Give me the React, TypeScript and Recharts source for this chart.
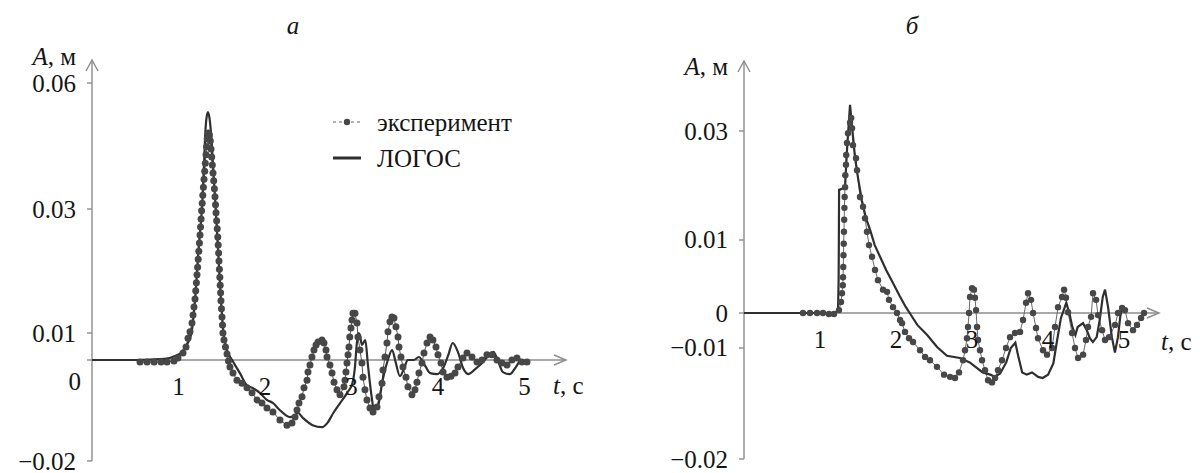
import React from "react"
import { LineChart, Line, XAxis, YAxis, ReferenceLine, ReferenceDot, Legend } from "recharts"

// ---- panel "а": wave amplitude, experiment vs LOGOS ----
const experimentA: [number, number][] = [
  [0.555, -0.0004], [0.636, -0.0004], [0.717, -0.0004], [0.798, -0.0004], [0.867, -0.0004], [0.948, -0.0002],
  [0.994, 0.0007], [1.052, 0.0026], [1.087, 0.0048], [1.11, 0.0081], [1.133, 0.0102], [1.156, 0.0116],
  [1.168, 0.0129], [1.179, 0.0142], [1.191, 0.0155], [1.199, 0.0168], [1.207, 0.0181], [1.214, 0.0194],
  [1.221, 0.0206], [1.228, 0.0219], [1.235, 0.0232], [1.242, 0.0245], [1.249, 0.0258], [1.255, 0.0271],
  [1.261, 0.0284], [1.267, 0.0297], [1.274, 0.0314], [1.281, 0.0333], [1.288, 0.0352], [1.295, 0.0371],
  [1.303, 0.039], [1.31, 0.0409], [1.318, 0.0429], [1.325, 0.0448], [1.333, 0.0467], [1.344, 0.0481],
  [1.358, 0.0476], [1.368, 0.0462], [1.376, 0.0443], [1.384, 0.0424], [1.391, 0.0405], [1.399, 0.0386],
  [1.407, 0.0367], [1.415, 0.0348], [1.422, 0.0329], [1.428, 0.031], [1.434, 0.0294], [1.441, 0.0281],
  [1.448, 0.0268], [1.454, 0.0255], [1.459, 0.0242], [1.464, 0.0229], [1.468, 0.0216], [1.473, 0.0203],
  [1.478, 0.019], [1.482, 0.0177], [1.487, 0.0165], [1.491, 0.0152], [1.497, 0.0139], [1.503, 0.0126],
  [1.509, 0.0113], [1.514, 0.01], [1.526, 0.0074], [1.543, 0.0048], [1.561, 0.0022], [1.578, -0.0002],
  [1.595, -0.0014], [1.63, -0.0026], [1.676, -0.004], [1.734, -0.0046], [1.792, -0.0055], [1.85, -0.0065],
  [1.908, -0.0079], [1.965, -0.0085], [2.023, -0.0095], [2.092, -0.0103], [2.173, -0.0119], [2.254, -0.0129],
  [2.312, -0.0125], [2.347, -0.0113], [2.37, -0.0099], [2.393, -0.0085], [2.428, -0.0073], [2.451, -0.0055],
  [2.486, -0.004], [2.497, -0.0024], [2.52, -0.001], [2.543, 0.0011], [2.566, 0.0037], [2.59, 0.0056],
  [2.613, 0.0067], [2.659, 0.0074], [2.682, 0.0063], [2.705, 0.0037], [2.717, 0.0011], [2.751, -0.001],
  [2.775, -0.0026], [2.798, -0.0044], [2.832, -0.0059], [2.867, -0.0069], [2.913, -0.0053], [2.925, -0.004],
  [2.936, -0.0024], [2.948, -0.0006], [2.96, 0.0019], [2.971, 0.0048], [2.98, 0.0085], [2.994, 0.0108],
  [3.006, 0.0121], [3.017, 0.0132], [3.04, 0.0132], [3.064, 0.0116], [3.075, 0.0085], [3.098, 0.0037],
  [3.121, -0.0006], [3.133, -0.0034], [3.156, -0.0059], [3.179, -0.0079], [3.214, -0.0095], [3.249, -0.0103],
  [3.295, -0.0093], [3.318, -0.0073], [3.353, -0.0046], [3.364, -0.002], [3.387, 0.0011], [3.41, 0.0063],
  [3.422, 0.0102], [3.445, 0.0118], [3.468, 0.0126], [3.491, 0.0124], [3.514, 0.011], [3.538, 0.0085],
  [3.549, 0.0048], [3.572, 0.0011], [3.595, -0.0014], [3.63, -0.0034], [3.653, -0.0053], [3.699, -0.0069],
  [3.734, -0.0059], [3.757, -0.0044], [3.78, -0.0026], [3.815, -0.0006], [3.838, 0.0026], [3.873, 0.0063],
  [3.908, 0.0085], [3.942, 0.0074], [3.977, 0.0048], [4.0, 0.0019], [4.035, -0.0006], [4.058, -0.0024],
  [4.104, -0.0034], [4.15, -0.0032], [4.197, -0.0026], [4.231, -0.0014], [4.289, 0.0007], [4.335, 0.0026],
  [4.393, 0.0011], [4.451, -0.0004], [4.509, 0], [4.566, 0.0019], [4.624, 0.0019], [4.682, 0],
  [4.74, -0.0006], [4.798, -0.001], [4.855, 0], [4.913, 0.0007], [4.971, -0.0004], [5.029, -0.0004],
]

const logosA: [number, number][] = [
  [0, 0], [0.5, 0], [0.84, 0.0004], [0.96, 0.0015], [1.04, 0.003], [1.1, 0.0059], [1.15, 0.01],
  [1.191, 0.0153], [1.231, 0.0234], [1.277, 0.0321], [1.295, 0.0405], [1.31, 0.0481], [1.324, 0.0517],
  [1.341, 0.0531], [1.358, 0.0517], [1.376, 0.0481], [1.399, 0.0405], [1.424, 0.0321], [1.457, 0.0234],
  [1.491, 0.0153], [1.52, 0.01], [1.561, 0.0037], [1.62, 0], [1.71, -0.0026], [1.79, -0.005],
  [1.85, -0.0055], [1.94, -0.0065], [2.02, -0.0079], [2.09, -0.0085], [2.17, -0.0099], [2.29, -0.0113],
  [2.35, -0.0109], [2.38, -0.0105], [2.44, -0.0115], [2.55, -0.0129], [2.66, -0.0133], [2.72, -0.0125],
  [2.79, -0.0105], [2.87, -0.0085], [2.95, -0.0065], [3.01, -0.0046], [3.04, -0.0014], [3.06, 0.0056],
  [3.08, 0.01], [3.1, 0.0089], [3.12, 0.0056], [3.16, 0.0074], [3.19, -0.001], [3.23, -0.0069],
  [3.26, -0.0099], [3.31, -0.0089], [3.36, -0.004], [3.42, 0], [3.47, 0.0037], [3.51, -0.0004],
  [3.56, -0.0032], [3.61, -0.0016], [3.65, 0], [3.72, 0], [3.78, 0.0011], [3.84, -0.0008], [3.91, -0.0026],
  [3.99, -0.0028], [4.06, -0.0016], [4.12, 0.0019], [4.17, 0.0063], [4.23, 0.003], [4.29, -0.0016],
  [4.35, -0.0028], [4.43, -0.0018], [4.51, -0.0006], [4.58, 0.0015], [4.64, 0.003], [4.69, 0],
  [4.75, -0.0024], [4.83, -0.0028], [4.9, -0.0014], [4.96, 0.0004],
]

// ---- panel "б" ----
const experimentB: [number, number][] = [
  [0.776, 0], [0.868, 0], [0.961, 0], [1.039, 0], [1.118, -0.0003], [1.184, -0.0003], [1.25, 0.0004],
  [1.276, 0.0015], [1.289, 0.0027], [1.3, 0.0038], [1.303, 0.0049], [1.306, 0.0063], [1.309, 0.0079],
  [1.312, 0.0095], [1.315, 0.0115], [1.318, 0.0137], [1.321, 0.0159], [1.324, 0.0179], [1.33, 0.0197],
  [1.333, 0.0219], [1.342, 0.0238], [1.345, 0.0256], [1.355, 0.0278], [1.368, 0.0296], [1.395, 0.0315],
  [1.41, 0.0324], [1.421, 0.0305], [1.434, 0.0274], [1.474, 0.025], [1.487, 0.0228], [1.526, 0.0179],
  [1.566, 0.0161], [1.592, 0.014], [1.618, 0.0115], [1.645, 0.0093], [1.684, 0.0077], [1.724, 0.0059],
  [1.763, 0.0045], [1.829, 0.0032], [1.882, 0.0029], [1.908, 0.0018], [1.961, 0.0008], [2.013, 0],
  [2.053, -0.002], [2.079, -0.0029], [2.118, -0.0054], [2.171, -0.0072], [2.224, -0.0083], [2.316, -0.0102],
  [2.382, -0.0108], [2.447, -0.0111], [2.539, -0.0117], [2.632, -0.0124], [2.711, -0.0126], [2.776, -0.0127],
  [2.829, -0.0122], [2.882, -0.0111], [2.908, -0.0102], [2.934, -0.0072], [2.947, -0.004], [2.961, 0],
  [2.974, 0.0022], [3.0, 0.0034], [3.026, 0.0032], [3.039, 0.0021], [3.053, 0.0004], [3.066, -0.004],
  [3.079, -0.0077], [3.105, -0.0102], [3.132, -0.0111], [3.171, -0.012], [3.211, -0.0129], [3.263, -0.0131],
  [3.303, -0.0127], [3.342, -0.012], [3.395, -0.0111], [3.447, -0.01], [3.5, -0.0069], [3.566, -0.0057],
  [3.632, -0.0054], [3.671, -0.002], [3.711, 0.0014], [3.737, 0.0027], [3.776, 0.0018], [3.803, 0],
  [3.842, -0.0043], [3.868, -0.0072], [3.934, -0.0102], [3.987, -0.0106], [4.053, -0.01], [4.092, -0.004],
  [4.132, 0.0008], [4.184, 0.0022], [4.211, 0.0032], [4.237, 0.0021], [4.263, 0.0001], [4.316, -0.0057],
  [4.355, -0.01], [4.395, -0.0109], [4.461, -0.0106], [4.5, -0.0077], [4.526, -0.004], [4.566, -0.0011],
  [4.592, 0.0027], [4.632, 0.0018], [4.658, -0.0006], [4.711, -0.0049], [4.75, -0.0077], [4.803, -0.0069],
  [4.882, -0.0034], [4.921, 0], [4.974, 0.0007], [5.013, 0.0004], [5.053, -0.0029], [5.118, -0.0049],
  [5.171, -0.0034], [5.224, -0.0014], [5.263, 0],
]

const logosB: [number, number][] = [
  [0, 0], [1.197, 0], [1.237, 0.0004], [1.245, 0.0045], [1.248, 0.01], [1.251, 0.0192], [1.29, 0.0194],
  [1.33, 0.0199], [1.355, 0.0265], [1.395, 0.0348], [1.42, 0.0311], [1.46, 0.0252], [1.5, 0.0214],
  [1.55, 0.0173], [1.605, 0.014], [1.66, 0.0118], [1.72, 0.0093], [1.79, 0.0077], [1.87, 0.0059],
  [1.96, 0.0041], [2.05, 0.0023], [2.13, 0.0008], [2.18, 0], [2.28, -0.0034], [2.41, -0.0063],
  [2.54, -0.0097], [2.67, -0.0107], [2.84, -0.0109], [2.97, -0.0113], [3.14, -0.0122], [3.24, -0.0124],
  [3.3, -0.0126], [3.37, -0.0123], [3.45, -0.0113], [3.51, -0.01], [3.57, -0.0085], [3.61, -0.0108],
  [3.66, -0.0122], [3.72, -0.0124], [3.79, -0.0122], [3.87, -0.0126], [3.93, -0.0127], [4.0, -0.0124],
  [4.07, -0.0114], [4.12, -0.0077], [4.17, -0.0014], [4.24, 0.0014], [4.28, 0], [4.32, -0.004],
  [4.36, -0.0063], [4.39, -0.004], [4.46, -0.0029], [4.51, -0.0049], [4.55, -0.0072], [4.59, -0.0083],
  [4.64, -0.0069], [4.68, -0.002], [4.72, 0.0022], [4.75, 0.0032], [4.79, 0.0008], [4.84, -0.0069],
  [4.88, -0.0104], [4.92, -0.0069], [4.95, -0.0011], [4.97, 0.0004],
]

const xTicks = [1, 2, 3, 4, 5]
const yTicksA = [-0.02, 0, 0.01, 0.03, 0.06]
const yTicksB = [-0.02, -0.01, 0, 0.01, 0.03]
const seriesNames = ["эксперимент", "ЛОГОС"]

// the printed amplitude axis is not uniform, so each panel gets its own broken scale
const breaksA = { stops: [-0.02, 0, 0.01, 0.03, 0.06, 0.0655], marks: [0, 0.2519, 0.3192, 0.6284, 0.9426, 1] }
const breaksB = { stops: [-0.02, -0.01, 0, 0.01, 0.03, 0.0428], marks: [0, 0.2789, 0.3668, 0.5503, 0.8241, 1] }

const FONT = "'Liberation Serif', 'DejaVu Serif', serif"
const FS = 25
const AXIS = "#8d8d8d"
const INK = "#2f2f2f"
const DOTS = "#474747"
const TEXT = "#151515"

function brokenScale(stops: number[], marks: number[]): any {
  let dom = [stops[0], stops[stops.length - 1]]
  let rng = [0, 1]
  const scale: any = (v: number) => {
    let i = 1
    while (i < stops.length - 1 && v > stops[i]) i++
    const k = (v - stops[i - 1]) / (stops[i] - stops[i - 1])
    const f = marks[i - 1] + k * (marks[i] - marks[i - 1])
    return rng[0] + f * (rng[1] - rng[0])
  }
  scale.domain = (d?: number[]) => {
    if (d === undefined) return dom.slice()
    dom = d.slice()
    return scale
  }
  scale.range = (r?: number[]) => {
    if (r === undefined) return rng.slice()
    rng = r.slice()
    return scale
  }
  scale.rangeRound = (r: number[]) => scale.range(r)
  scale.copy = () => brokenScale(stops, marks).domain(dom).range(rng)
  scale.ticks = () => stops.slice(0, -1)
  scale.tickFormat = () => (v: number) => String(v)
  scale.clamp = () => scale
  scale.nice = () => scale
  scale.invert = (px: number) => {
    const f = (px - rng[0]) / (rng[1] - rng[0])
    let i = 1
    while (i < marks.length - 1 && f > marks[i]) i++
    const k = (f - marks[i - 1]) / (marks[i] - marks[i - 1])
    return stops[i - 1] + k * (stops[i] - stops[i - 1])
  }
  return scale
}

const toRows = (pairs: [number, number][]) => pairs.map(([t, A]) => ({ t, A }))

const fmt = (v: number) => (v === 0 ? "0" : v < 0 ? "\u2212" + Math.abs(v).toFixed(2) : v.toFixed(2))

function YTick(props: any) {
  const { x, y, payload, zeroDrop } = props
  const isZero = payload.value === 0
  return (
    <text
      x={x + (isZero ? zeroDrop.dx : 0)}
      y={y + (isZero ? zeroDrop.dy : 0)}
      dy="0.34em"
      textAnchor="end"
      style={{ fontFamily: FONT, fontSize: FS, fill: TEXT }}
    >
      {fmt(payload.value)}
    </text>
  )
}

const arrowUp = (p: any) => {
  const top = Math.min(p.y1, p.y2)
  const bottom = Math.max(p.y1, p.y2)
  return (
    <g>
      <line x1={p.x1} y1={top} x2={p.x1} y2={bottom} stroke={AXIS} strokeWidth={1.4} />
      <polyline points={`${p.x1 - 6},${top + 11} ${p.x1},${top} ${p.x1 + 6},${top + 11}`} fill="none" stroke={AXIS} strokeWidth={1.4} />
    </g>
  )
}

const arrowRight = (p: any) => {
  const left = Math.min(p.x1, p.x2)
  const right = Math.max(p.x1, p.x2)
  return (
    <g>
      <line x1={left} y1={p.y1} x2={right} y2={p.y1} stroke={AXIS} strokeWidth={1.4} />
      <polyline points={`${right - 12},${p.y1 - 5} ${right},${p.y1} ${right - 12},${p.y1 + 5}`} fill="none" stroke={AXIS} strokeWidth={1.4} />
    </g>
  )
}

function renderLegend(props: any) {
  const items = [...(props.payload || [])].sort(
    (a: any, b: any) => seriesNames.indexOf(a.value) - seriesNames.indexOf(b.value)
  )
  return (
    <div style={{ fontFamily: FONT, fontSize: FS, color: TEXT }}>
      {items.map((entry: any) => (
        <div key={entry.value} style={{ display: "flex", alignItems: "center", height: 36 }}>
          <svg width={30} height={14} style={{ display: "block" }}>
            {entry.value === seriesNames[0] ? (
              <g>
                <line x1={1} y1={7} x2={29} y2={7} stroke="#666" strokeWidth={1} strokeDasharray="3 3" />
                <circle cx={15} cy={7} r={3.2} fill={DOTS} />
              </g>
            ) : (
              <line x1={1} y1={7} x2={29} y2={7} stroke={INK} strokeWidth={3} />
            )}
          </svg>
          <span style={{ marginLeft: 15, lineHeight: 1 }}>{entry.value}</span>
        </div>
      ))}
    </div>
  )
}

type PanelProps = {
  left: number
  axisX: number
  arrowEnd: number
  top: number
  bottom: number
  tMax: number
  yDomain: [number, number]
  yTicks: number[]
  breaks: { stops: number[]; marks: number[] }
  experiment: [number, number][]
  logos: [number, number][]
  dotR: number
  expLine: string
  logosType: "monotone" | "linear"
  zeroDrop: { dx: number; dy: number }
  withLegend?: boolean
}

const PANEL_W = 600

function Panel(p: PanelProps) {
  const scale = brokenScale(p.breaks.stops, p.breaks.marks)
  const axisWidth = p.axisX - p.left
  const rightGap = PANEL_W - axisWidth - (p.arrowEnd - p.axisX)
  return (
    <div style={{ position: "absolute", left: p.left, top: 0 }}>
      <LineChart width={PANEL_W} height={473} margin={{ top: p.top, right: rightGap, bottom: 473 - p.bottom, left: 0 }}>
        <XAxis type="number" dataKey="t" domain={[0, p.tMax]} hide allowDataOverflow />
        <YAxis
          type="number"
          dataKey="A"
          width={axisWidth}
          scale={scale}
          domain={p.yDomain}
          ticks={p.yTicks}
          interval={0}
          axisLine={false}
          tickLine={{ stroke: AXIS, strokeWidth: 1.4 }}
          tickSize={5}
          tickMargin={11}
          tick={(tp: any) => <YTick {...tp} zeroDrop={p.zeroDrop} />}
          allowDataOverflow
        />
        <ReferenceLine x={0} shape={arrowUp} />
        <ReferenceLine y={0} shape={arrowRight} />
        {xTicks.map((t) => (
          <ReferenceDot
            key={t}
            x={t}
            y={0}
            r={0}
            fill="none"
            stroke="none"
            label={{ value: String(t), position: "bottom", offset: 17, style: { fontSize: FS, fill: TEXT, fontFamily: FONT } }}
          />
        ))}
        <Line
          data={toRows(p.experiment)}
          dataKey="A"
          name={seriesNames[0]}
          type="linear"
          stroke={p.expLine}
          strokeWidth={1}
          dot={{ r: p.dotR, fill: DOTS, stroke: "none" }}
          isAnimationActive={false}
        />
        <Line
          data={toRows(p.logos)}
          dataKey="A"
          name={seriesNames[1]}
          type={p.logosType}
          stroke={INK}
          strokeWidth={2.2}
          dot={false}
          isAnimationActive={false}
        />
        {p.withLegend && (
          <Legend
            layout="vertical"
            align="center"
            verticalAlign="middle"
            wrapperStyle={{ left: 332, top: 104, width: 260 }}
            content={renderLegend}
          />
        )}
      </LineChart>
    </div>
  )
}

type NoteProps = { x: number; y: number; anchor: "start" | "middle" | "end"; children: React.ReactNode; italic?: boolean }

function Note({ x, y, anchor, children, italic }: NoteProps) {
  const shift = anchor === "start" ? "0" : anchor === "middle" ? "-50%" : "-100%"
  return (
    <div
      style={{
        position: "absolute",
        left: x,
        top: y,
        transform: `translate(${shift}, -50%)`,
        fontFamily: FONT,
        fontSize: FS,
        lineHeight: 0.9,
        whiteSpace: "nowrap",
        color: TEXT,
        fontStyle: italic ? "italic" : "normal",
      }}
    >
      {children}
    </div>
  )
}

export default function App() {
  return (
    <div style={{ position: "absolute", left: 0, top: 0, width: 1200, height: 473, background: "#fff", overflow: "hidden" }}>
      <Panel
        left={0}
        axisX={92}
        arrowEnd={566}
        top={60}
        bottom={461}
        tMax={5.48}
        yDomain={[-0.02, 0.0655]}
        yTicks={yTicksA}
        breaks={breaksA}
        experiment={experimentA}
        logos={logosA}
        dotR={3.5}
        expLine="#555"
        logosType="monotone"
        zeroDrop={{ dx: 5, dy: 22 }}
        withLegend
      />
      <Panel
        left={600}
        axisX={744}
        arrowEnd={1159}
        top={61}
        bottom={459}
        tMax={5.46}
        yDomain={[-0.02, 0.0428]}
        yTicks={yTicksB}
        breaks={breaksB}
        experiment={experimentB}
        logos={logosB}
        dotR={3.2}
        expLine="#6a6a6a"
        logosType="linear"
        zeroDrop={{ dx: 0, dy: 0 }}
      />
      <Note x={293} y={26} anchor="middle" italic>a</Note>
      <Note x={912} y={26} anchor="middle" italic>б</Note>
      <Note x={76} y={57} anchor="end"><i>A</i>, м</Note>
      <Note x={728} y={67} anchor="end"><i>A</i>, м</Note>
      <Note x={553} y={386} anchor="start"><i>t</i>, с</Note>
      <Note x={1161} y={342} anchor="start"><i>t</i>, с</Note>
    </div>
  )
}
